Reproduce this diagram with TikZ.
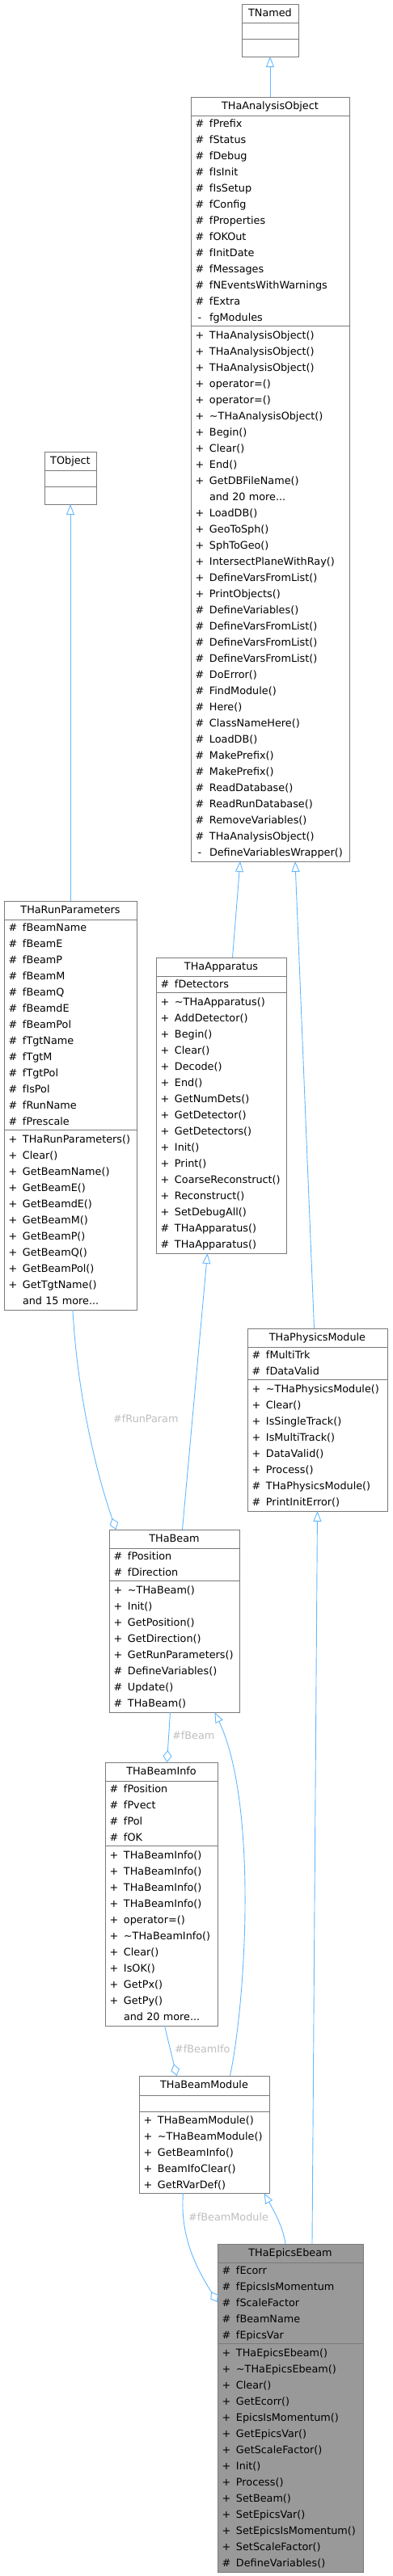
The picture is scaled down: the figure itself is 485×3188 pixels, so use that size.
\documentclass[tikz,border=0pt]{standalone}
\usepackage{fontspec}
\setmainfont{DejaVu Sans}
\usetikzlibrary{arrows.meta}

\definecolor{edgeblue}{HTML}{63B8FF}
\definecolor{boxgray}{HTML}{7A7A7A}
\definecolor{lblgray}{HTML}{BEBEBE}
\definecolor{hilite}{HTML}{999999}

% one member line: visibility sign, then the name
\newcommand{\crow}[2]{\makebox[12pt][c]{#1}\hspace{6pt}#2\rule[-5.5pt]{0pt}{20pt}}

\tikzset{
  box/.style={draw=boxgray, line width=1pt, fill=white, inner sep=0pt, outer sep=0pt, anchor=north west},
  head/.style={box, minimum height=23pt, text height=10pt, text depth=3pt},
  part/.style={box, align=left, inner xsep=5pt, inner ysep=0pt},
  inh/.style={draw=edgeblue, line width=0.9pt, -{Triangle[open, length=13pt, width=10pt]}},
  agg/.style={draw=edgeblue, line width=0.9pt, -{Diamond[open, length=15pt, width=11pt]}},
  lbl/.style={text=lblgray, inner sep=0pt, anchor=west},
}

\begin{document}
\begin{tikzpicture}[x=1pt, y=-1pt, font=\fontsize{12.8}{20}\selectfont]

  \useasboundingbox (0,0) rectangle (485,3188);

  % TNamed
  \node[head, minimum width=70pt] (tn) at (299,5) {TNamed};
  \node[part, text width=60pt, minimum height=20pt] (tnA) at (tn.south west) {};
  \node[part, text width=60pt, minimum height=22pt] (tnM) at (tnA.south west) {};

  % THaAnalysisObject
  \def\wapo{196}
  \node[head, minimum width=\wapo pt] (apo) at (236,120) {THaAnalysisObject};
  \node[part, text width=\wapo pt-10pt] (apoA) at (apo.south west) {%
    \crow{\#}{fPrefix}\\ \crow{\#}{fStatus}\\ \crow{\#}{fDebug}\\ \crow{\#}{fIsInit}\\
    \crow{\#}{fIsSetup}\\ \crow{\#}{fConfig}\\ \crow{\#}{fProperties}\\ \crow{\#}{fOKOut}\\
    \crow{\#}{fInitDate}\\ \crow{\#}{fMessages}\\ \crow{\#}{fNEventsWithWarnings}\\
    \crow{\#}{fExtra}\\ \crow{-}{fgModules}};
  \node[part, text width=\wapo pt-10pt, minimum height=663pt] (apoM) at (apoA.south west) {%
    \crow{+}{THaAnalysisObject()}\\ \crow{+}{THaAnalysisObject()}\\ \crow{+}{THaAnalysisObject()}\\
    \crow{+}{operator=()}\\ \crow{+}{operator=()}\\ \crow{+}{\textasciitilde THaAnalysisObject()}\\
    \crow{+}{Begin()}\\ \crow{+}{Clear()}\\ \crow{+}{End()}\\ \crow{+}{GetDBFileName()}\\
    \crow{}{and 20 more...}\\ \crow{+}{LoadDB()}\\ \crow{+}{GeoToSph()}\\ \crow{+}{SphToGeo()}\\
    \crow{+}{IntersectPlaneWithRay()}\\ \crow{+}{DefineVarsFromList()}\\ \crow{+}{PrintObjects()}\\
    \crow{\#}{DefineVariables()}\\ \crow{\#}{DefineVarsFromList()}\\ \crow{\#}{DefineVarsFromList()}\\
    \crow{\#}{DefineVarsFromList()}\\ \crow{\#}{DoError()}\\ \crow{\#}{FindModule()}\\
    \crow{\#}{Here()}\\ \crow{\#}{ClassNameHere()}\\ \crow{\#}{LoadDB()}\\ \crow{\#}{MakePrefix()}\\
    \crow{\#}{MakePrefix()}\\ \crow{\#}{ReadDatabase()}\\ \crow{\#}{ReadRunDatabase()}\\
    \crow{\#}{RemoveVariables()}\\ \crow{\#}{THaAnalysisObject()}\\ \crow{-}{DefineVariablesWrapper()}};

  % TObject
  \node[head, minimum width=64pt] (tob) at (55,559) {TObject};
  \node[part, text width=54pt, minimum height=20pt] (tobA) at (tob.south west) {};
  \node[part, text width=54pt, minimum height=22pt] (tobM) at (tobA.south west) {};

  % THaRunParameters
  \def\wrp{164}
  \node[head, minimum width=\wrp pt] (rp) at (5,1115) {THaRunParameters};
  \node[part, text width=\wrp pt-10pt] (rpA) at (rp.south west) {%
    \crow{\#}{fBeamName}\\ \crow{\#}{fBeamE}\\ \crow{\#}{fBeamP}\\ \crow{\#}{fBeamM}\\
    \crow{\#}{fBeamQ}\\ \crow{\#}{fBeamdE}\\ \crow{\#}{fBeamPol}\\ \crow{\#}{fTgtName}\\
    \crow{\#}{fTgtM}\\ \crow{\#}{fTgtPol}\\ \crow{\#}{fIsPol}\\ \crow{\#}{fRunName}\\
    \crow{\#}{fPrescale}};
  \node[part, text width=\wrp pt-10pt, minimum height=223pt] (rpM) at (rpA.south west) {%
    \crow{+}{THaRunParameters()}\\ \crow{+}{Clear()}\\ \crow{+}{GetBeamName()}\\
    \crow{+}{GetBeamE()}\\ \crow{+}{GetBeamdE()}\\ \crow{+}{GetBeamM()}\\ \crow{+}{GetBeamP()}\\
    \crow{+}{GetBeamQ()}\\ \crow{+}{GetBeamPol()}\\ \crow{+}{GetTgtName()}\\
    \crow{}{and 15 more...}};

  % THaApparatus
  \def\wapp{161}
  \node[head, minimum width=\wapp pt] (app) at (193,1185) {THaApparatus};
  \node[part, text width=\wapp pt-10pt] (appA) at (app.south west) {\crow{\#}{fDetectors}};
  \node[part, text width=\wapp pt-10pt, minimum height=323pt] (appM) at (appA.south west) {%
    \crow{+}{\textasciitilde THaApparatus()}\\ \crow{+}{AddDetector()}\\ \crow{+}{Begin()}\\
    \crow{+}{Clear()}\\ \crow{+}{Decode()}\\ \crow{+}{End()}\\ \crow{+}{GetNumDets()}\\
    \crow{+}{GetDetector()}\\ \crow{+}{GetDetectors()}\\ \crow{+}{Init()}\\ \crow{+}{Print()}\\
    \crow{+}{CoarseReconstruct()}\\ \crow{+}{Reconstruct()}\\ \crow{+}{SetDebugAll()}\\
    \crow{\#}{THaApparatus()}\\ \crow{\#}{THaApparatus()}};

  % THaPhysicsModule
  \def\wphm{173}
  \node[head, minimum width=\wphm pt] (phm) at (306,1644) {THaPhysicsModule};
  \node[part, text width=\wphm pt-10pt] (phmA) at (phm.south west) {%
    \crow{\#}{fMultiTrk}\\ \crow{\#}{fDataValid}};
  \node[part, text width=\wphm pt-10pt, minimum height=163pt] (phmM) at (phmA.south west) {%
    \crow{+}{\textasciitilde THaPhysicsModule()}\\ \crow{+}{Clear()}\\ \crow{+}{IsSingleTrack()}\\
    \crow{+}{IsMultiTrack()}\\ \crow{+}{DataValid()}\\ \crow{+}{Process()}\\
    \crow{\#}{THaPhysicsModule()}\\ \crow{\#}{PrintInitError()}};

  % THaBeam
  \def\wbm{161}
  \node[head, minimum width=\wbm pt] (bm) at (135,1893) {THaBeam};
  \node[part, text width=\wbm pt-10pt] (bmA) at (bm.south west) {%
    \crow{\#}{fPosition}\\ \crow{\#}{fDirection}};
  \node[part, text width=\wbm pt-10pt, minimum height=163pt] (bmM) at (bmA.south west) {%
    \crow{+}{\textasciitilde THaBeam()}\\ \crow{+}{Init()}\\ \crow{+}{GetPosition()}\\
    \crow{+}{GetDirection()}\\ \crow{+}{GetRunParameters()}\\ \crow{\#}{DefineVariables()}\\
    \crow{\#}{Update()}\\ \crow{\#}{THaBeam()}};

  % THaBeamInfo
  \def\wbi{139}
  \node[head, minimum width=\wbi pt] (bi) at (130,2181) {THaBeamInfo};
  \node[part, text width=\wbi pt-10pt] (biA) at (bi.south west) {%
    \crow{\#}{fPosition}\\ \crow{\#}{fPvect}\\ \crow{\#}{fPol}\\ \crow{\#}{fOK}};
  \node[part, text width=\wbi pt-10pt, minimum height=223pt] (biM) at (biA.south west) {%
    \crow{+}{THaBeamInfo()}\\ \crow{+}{THaBeamInfo()}\\ \crow{+}{THaBeamInfo()}\\
    \crow{+}{THaBeamInfo()}\\ \crow{+}{operator=()}\\ \crow{+}{\textasciitilde THaBeamInfo()}\\
    \crow{+}{Clear()}\\ \crow{+}{IsOK()}\\ \crow{+}{GetPx()}\\ \crow{+}{GetPy()}\\
    \crow{}{and 20 more...}};

  % THaBeamModule
  \def\wbmm{161}
  \node[head, minimum width=\wbmm pt, minimum height=24pt] (bmm) at (172,2569) {THaBeamModule};
  \node[part, text width=\wbmm pt-10pt, minimum height=20pt] (bmmA) at (bmm.south west) {};
  \node[part, text width=\wbmm pt-10pt, minimum height=101pt] (bmmM) at (bmmA.south west) {%
    \crow{+}{THaBeamModule()}\\ \crow{+}{\textasciitilde THaBeamModule()}\\
    \crow{+}{GetBeamInfo()}\\ \crow{+}{BeamIfoClear()}\\ \crow{+}{GetRVarDef()}};

  % THaEpicsEbeam (the class itself)
  \def\web{180}
  \node[head, fill=hilite, minimum width=\web pt] (eb) at (269,2777) {THaEpicsEbeam};
  \node[part, fill=hilite, text width=\web pt-10pt] (ebA) at (eb.south west) {%
    \crow{\#}{fEcorr}\\ \crow{\#}{fEpicsIsMomentum}\\ \crow{\#}{fScaleFactor}\\
    \crow{\#}{fBeamName}\\ \crow{\#}{fEpicsVar}};
  \node[part, fill=hilite, text width=\web pt-10pt, minimum height=283pt] (ebM) at (ebA.south west) {%
    \crow{+}{THaEpicsEbeam()}\\ \crow{+}{\textasciitilde THaEpicsEbeam()}\\ \crow{+}{Clear()}\\
    \crow{+}{GetEcorr()}\\ \crow{+}{EpicsIsMomentum()}\\ \crow{+}{GetEpicsVar()}\\
    \crow{+}{GetScaleFactor()}\\ \crow{+}{Init()}\\ \crow{+}{Process()}\\ \crow{+}{SetBeam()}\\
    \crow{+}{SetEpicsVar()}\\ \crow{+}{SetEpicsIsMomentum()}\\ \crow{+}{SetScaleFactor()}\\
    \crow{\#}{DefineVariables()}};

  % inheritance
  \draw[inh] (apo.north) -- (tnM.south);
  \draw[inh] (rp.north) -- (tobM.south);
  \draw[inh] ([xshift=14pt]app.north) -- ([xshift=-37pt]apoM.south);
  \draw[inh] ([xshift=-4pt]phm.north) -- ([xshift=31pt]apoM.south);
  \draw[inh] ([xshift=10pt]bm.north) -- ([xshift=-17pt]appM.south);
  \draw[inh] ([xshift=27pt]eb.north) -- (phmM.south);
  \draw[inh] ([xshift=32pt]bmm.north) .. controls (305,2470) and (318,2230) .. ([xshift=50pt]bmM.south);
  \draw[inh] ([xshift=-6pt]eb.north) .. controls (350,2755) and (338,2735) .. ([xshift=74pt]bmmM.south);

  % members
  \draw[agg] ([xshift=3pt]rpM.south) .. controls (95,1720) and (118,1820) .. ([xshift=-72pt]bm.north);
  \draw[agg] ([xshift=-5pt]bmM.south) -- ([xshift=7pt]bi.north);
  \draw[agg] ([xshift=4pt]biM.south) -- ([xshift=-34pt]bmm.north);
  \draw[agg] ([xshift=-26pt]bmmM.south) .. controls (222,2770) and (245,2810) .. ([yshift=1pt]ebA.west);

  \node[lbl] (lrun) at (140,1756) {\#fRunParam};
  \node[lbl] (lbeam) at (213,2148) {\#fBeam};
  \node[lbl] (lifo) at (216,2536) {\#fBeamIfo};
  \node[lbl] (lmod) at (233,2744) {\#fBeamModule};

\end{tikzpicture}
\end{document}
